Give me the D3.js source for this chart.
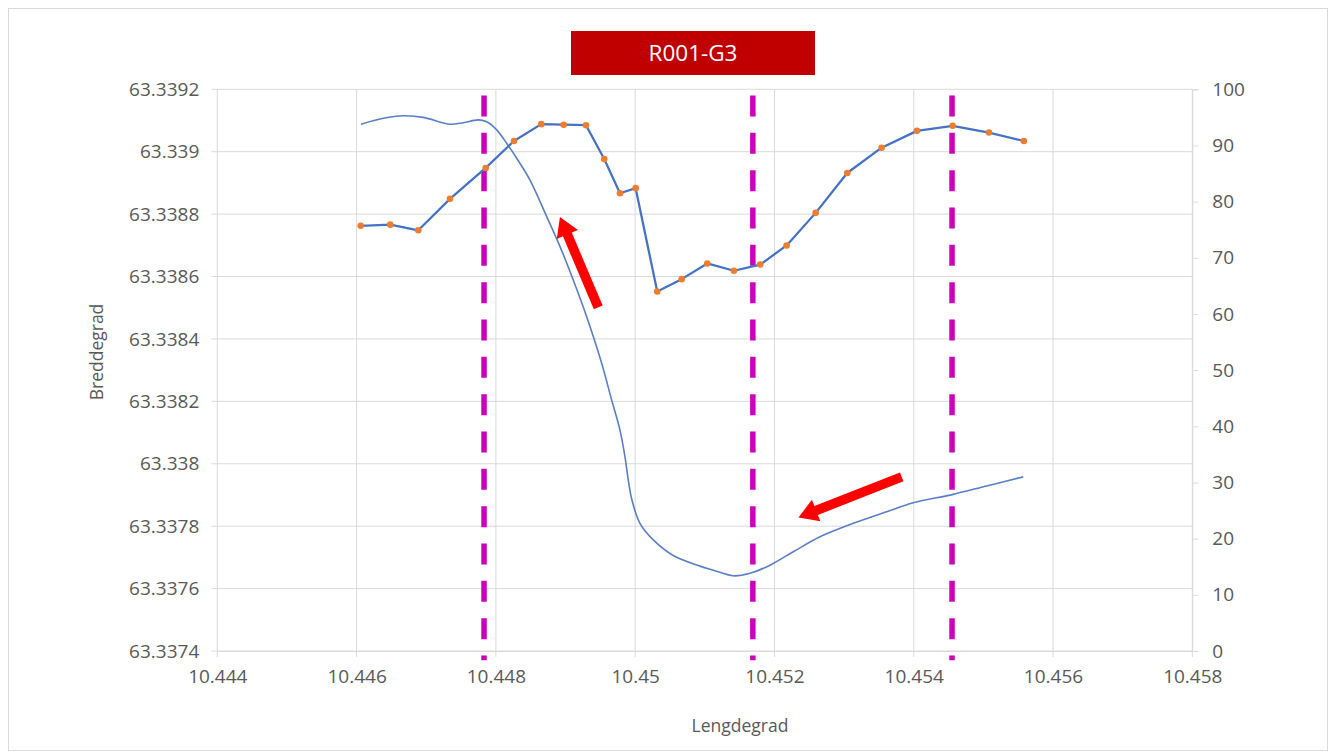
<!DOCTYPE html>
<html>
<head>
<meta charset="utf-8">
<script src="https://cdn.jsdelivr.net/npm/d3@7"></script>
<style>
  html, body { margin: 0; padding: 0; background: #ffffff; }
  svg { display: block; }
  text { font-family: "Open Sans", "Noto Sans", sans-serif; }
</style>
</head>
<body>
<svg id="chart" width="1328" height="751"></svg>
<script>
// ---------- DATA ----------
const title = "R001-G3";
const xLabel = "Lengdegrad";
const yLabel = "Breddegrad";

const xTicks = [10.444, 10.446, 10.448, 10.450, 10.452, 10.454, 10.456, 10.458];
const latTicks = [63.3374, 63.3376, 63.3378, 63.3380, 63.3382, 63.3384, 63.3386, 63.3388, 63.3390, 63.3392];
const rightTicks = [0, 10, 20, 30, 40, 50, 60, 70, 80, 90, 100];

// Series with markers (secondary axis 0-100)
const markLon = [10.446059, 10.446484, 10.446886, 10.447341, 10.447854, 10.448260, 10.448652,
  10.448973, 10.449294, 10.449556, 10.449782, 10.450007, 10.450317, 10.450668, 10.451035,
  10.451418, 10.451796, 10.452175, 10.452592, 10.453045, 10.453539, 10.454046, 10.454559,
  10.455080, 10.455582];
const markVal = [75.7, 75.9, 74.9, 80.5, 86.0, 90.8, 93.8, 93.7, 93.6, 87.6, 81.5, 82.4, 64.0,
  66.2, 69.0, 67.7, 68.8, 72.2, 78.0, 85.1, 89.6, 92.6, 93.5, 92.3, 90.8];

// Smoothed track (primary axis: latitude)
const trackLon = [10.446063, 10.446383, 10.446671, 10.446958, 10.447341, 10.447532, 10.447747,
  10.447868, 10.448012, 10.448155, 10.448299, 10.448490, 10.448730, 10.448921, 10.449111,
  10.449304, 10.449519, 10.449663, 10.449782, 10.449854, 10.449901, 10.449954, 10.450069,
  10.450260, 10.450547, 10.450931, 10.451122, 10.451409, 10.451649, 10.451936, 10.452270,
  10.452654, 10.453132, 10.453611, 10.453993, 10.454567, 10.455047, 10.455573];
const trackLat = [63.339088, 63.339107, 63.339115, 63.339110, 63.339088, 63.339093, 63.339102,
  63.339096, 63.339070, 63.339027, 63.338979, 63.338909, 63.338792, 63.338696, 63.338589,
  63.338471, 63.338322, 63.338204, 63.338108, 63.338022, 63.337948, 63.337884, 63.337809,
  63.337756, 63.337706, 63.337672, 63.337659, 63.337641, 63.337649, 63.337675, 63.337718,
  63.337766, 63.337809, 63.337846, 63.337875, 63.337902, 63.337929, 63.337958];

// Vertical dashed markers (longitude), spanning latitude range
const markerLon = [10.44783, 10.45169, 10.45455];
const markerLatSpan = [63.33918, 63.33737];

// Direction arrows: tail and tip positions
const arrowTailLon = [10.44947, 10.453827];
const arrowTailLat = [63.338501, 63.337958];
const arrowTipLon = [10.44892, 10.452345];
const arrowTipLat = [63.338791, 63.337828];

// ---------- LAYOUT ----------
const W = 1328, H = 751;
const plot = { left: 217.3, right: 1192.3, top: 89.3, bottom: 651 };

const svg = d3.select("#chart");

svg.append("rect").attr("x", 8.5).attr("y", 8.5).attr("width", W - 9).attr("height", H - 9)
  .attr("fill", "#fff").attr("stroke", "#d9d9d9").attr("stroke-width", 1);

const x = d3.scaleLinear().domain([10.444, 10.458]).range([plot.left, plot.right]);
const yL = d3.scaleLinear().domain([63.3374, 63.3392]).range([plot.bottom, plot.top]);
const yR = d3.scaleLinear().domain([0, 100]).range([plot.bottom, plot.top]);

const gridColor = "#d9d9d9";
const textColor = "#595959";
const fmtLat = v => String(+v.toFixed(4));
const fmtLon = v => String(+v.toFixed(3));

// Horizontal gridlines
svg.append("g").selectAll("line").data(latTicks).join("line")
  .attr("x1", plot.left - 6).attr("x2", plot.right)
  .attr("y1", d => yL(d)).attr("y2", d => yL(d))
  .attr("stroke", gridColor).attr("stroke-width", 1);

// Vertical gridlines
svg.append("g").selectAll("line").data(xTicks).join("line")
  .attr("x1", d => x(d)).attr("x2", d => x(d))
  .attr("y1", plot.top).attr("y2", plot.bottom + 6)
  .attr("stroke", gridColor).attr("stroke-width", 1);

// Left axis labels
const gL = svg.append("g").attr("transform", `translate(${plot.left},0)`)
  .call(d3.axisLeft(yL).tickValues(latTicks).tickFormat(fmtLat).tickSize(0).tickPadding(18));
gL.select(".domain").remove();
gL.selectAll("text").attr("fill", textColor).style("font-size", "19px")
  .style("font-family", "'Open Sans', sans-serif");

// Right axis
const gR = svg.append("g").attr("transform", `translate(${plot.right},0)`)
  .call(d3.axisRight(yR).tickValues(rightTicks).tickSize(6).tickPadding(14));
gR.select(".domain").attr("stroke", gridColor);
gR.selectAll(".tick line").attr("stroke", gridColor);
gR.selectAll("text").attr("fill", textColor).style("font-size", "19px")
  .style("font-family", "'Open Sans', sans-serif");

// Bottom axis labels
const gB = svg.append("g").attr("transform", `translate(0,${plot.bottom})`)
  .call(d3.axisBottom(x).tickValues(xTicks).tickFormat(fmtLon).tickSize(0).tickPadding(19));
gB.select(".domain").attr("stroke", gridColor);
gB.selectAll("text").attr("fill", textColor).style("font-size", "19px")
  .style("font-family", "'Open Sans', sans-serif");

// Axis titles
svg.append("text").attr("x", 740).attr("y", 732)
  .attr("text-anchor", "middle").attr("fill", textColor).style("font-size", "17.5px")
  .text(xLabel);
svg.append("text").attr("transform", `translate(103,352) rotate(-90)`)
  .attr("text-anchor", "middle").attr("fill", textColor).style("font-size", "17.5px")
  .text(yLabel);

// Dashed markers
svg.append("g").selectAll("line").data(markerLon).join("line")
  .attr("x1", d => x(d)).attr("x2", d => x(d))
  .attr("y1", yL(markerLatSpan[0])).attr("y2", yL(markerLatSpan[1]))
  .attr("stroke", "#cc00bb").attr("stroke-width", 5.5)
  .attr("stroke-dasharray", "21 16.33");

// Smoothed track
const track = trackLon.map((d, i) => [d, trackLat[i]]);
svg.append("path").datum(track)
  .attr("d", d3.line().x(d => x(d[0])).y(d => yL(d[1])).curve(d3.curveCatmullRom.alpha(0.5)))
  .attr("fill", "none").attr("stroke", "#5a7ec6").attr("stroke-width", 1.6);

// Marker series
const marks = markLon.map((d, i) => [d, markVal[i]]);
svg.append("path").datum(marks)
  .attr("d", d3.line().x(d => x(d[0])).y(d => yR(d[1])))
  .attr("fill", "none").attr("stroke", "#4472c4").attr("stroke-width", 2.25)
  .attr("stroke-linejoin", "round");
svg.append("g").selectAll("circle").data(marks).join("circle")
  .attr("cx", d => x(d[0])).attr("cy", d => yR(d[1])).attr("r", 3.3)
  .attr("fill", "#ed7d31");

// Arrows
function arrowPath(x1, y1, x2, y2) {
  const dx = x2 - x1, dy = y2 - y1, L = Math.hypot(dx, dy);
  const ux = dx / L, uy = dy / L, nx = -uy, ny = ux;
  const shaftW = 4.8, headW = 11.5, headL = 19;
  const bx = x2 - ux * headL, by = y2 - uy * headL;
  const pts = [
    [x1 + nx * shaftW, y1 + ny * shaftW],
    [bx + nx * shaftW, by + ny * shaftW],
    [bx + nx * headW, by + ny * headW],
    [x2, y2],
    [bx - nx * headW, by - ny * headW],
    [bx - nx * shaftW, by - ny * shaftW],
    [x1 - nx * shaftW, y1 - ny * shaftW]
  ];
  return "M" + pts.map(p => p.join(",")).join("L") + "Z";
}
svg.append("g").selectAll("path").data(arrowTailLon).join("path")
  .attr("d", (d, i) => arrowPath(x(arrowTailLon[i]), yL(arrowTailLat[i]), x(arrowTipLon[i]), yL(arrowTipLat[i])))
  .attr("fill", "#ff0000");

// Title box
svg.append("rect").attr("x", 571).attr("y", 31).attr("width", 244).attr("height", 44)
  .attr("fill", "#c00000");
svg.append("text").attr("x", 693).attr("y", 61).attr("text-anchor", "middle")
  .attr("fill", "#ffffff").style("font-size", "22.5px").text(title);
</script>
</body>
</html>
